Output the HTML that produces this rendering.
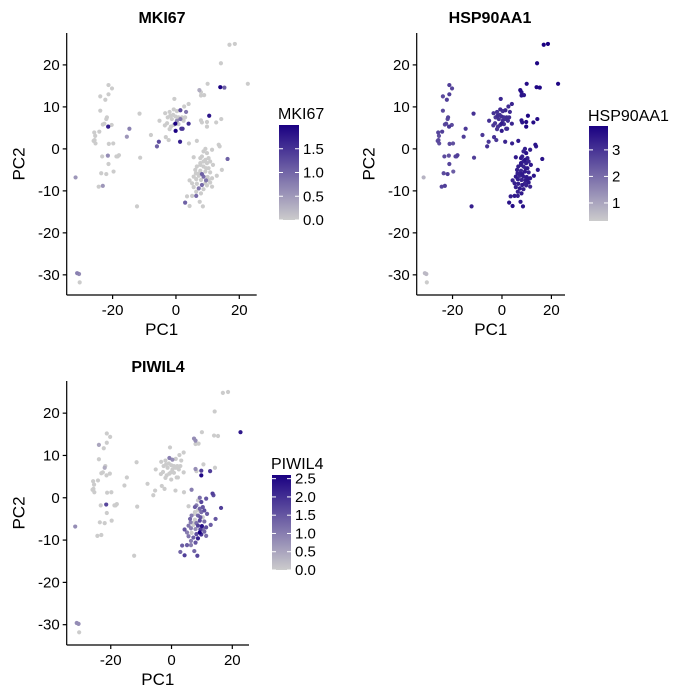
<!DOCTYPE html>
<html><head><meta charset="utf-8">
<style>
body{margin:0;background:#fff;}
svg{display:block;font-family:"Liberation Sans",Arial,sans-serif;}
</style></head>
<body>
<svg id="chart" width="700" height="700" viewBox="0 0 700 700" xmlns="http://www.w3.org/2000/svg">
<defs>
<linearGradient id="grad" x1="0" y1="1" x2="0" y2="0">
<stop offset="0" stop-color="#cccccc"/><stop offset="1" stop-color="#1a0082"/>
</linearGradient>
</defs>
</svg>
<script>
const pc1=[16.9,18.6,14.2,22.7,14.0,15.3,10.0,7.4,7.9,7.9,8.9,10.5,7.9,8.2,9.8,12.7,14.3,6.6,9.8,
-0.5,4.0,2.6,1.4,3.2,0.3,-0.7,-2.0,-3.4,-2.6,-1.8,-0.9,-0.1,0.8,1.9,2.9,-2.8,-1.3,0.3,1.4,2.4,-5.2,-3.5,-2.0,-0.7,-0.2,-0.1,1.7,2.1,4.0,1.3,-5.4,-6.0,-3.2,-2.3,4.1,0.8,-1.6,
-21.3,-20.2,-21.3,-23.9,-22.3,-23.9,-21.8,-22.0,-22.6,-21.4,-20.3,-25.8,-25.5,-25.7,-26.0,-25.4,-24.2,-21.2,-19.8,-23.3,-21.5,-21.3,-18.8,-18.0,-18.4,-19.7,-23.6,-22.0,-24.4,-23.1,-31.7,-15.5,-14.7,-11.5,-11.3,-12.3,-7.9,-23.1,
-31.2,-30.6,-30.4,
13.5,13.8,11.4,9.3,8.7,9.8,8.2,5.6,7.7,10.3,9.3,8.7,10.8,7.7,9.8,11.7,16.3,6.6,8.7,10.3,14.5,6.1,7.7,9.3,10.8,12.9,5.6,7.2,8.7,10.0,11.4,6.4,7.9,9.5,10.8,4.3,5.1,6.6,8.2,9.8,11.4,5.6,7.2,8.7,6.4,7.9,5.1,6.4,2.9,4.3,7.5,8.5,3.5,7.2,8.2,6.3,9.3,10.3,7.7,9.5];
const pc2=[24.8,25.0,20.4,15.5,14.7,14.6,15.5,14.0,13.5,12.7,12.8,7.9,6.8,6.3,5.3,6.3,7.1,1.9,6.4,
11.9,10.7,10.1,9.2,8.8,9.0,9.4,8.8,8.5,7.5,7.9,8.1,7.7,7.5,7.5,7.5,6.1,7.1,6.7,7.1,6.7,6.7,5.6,4.7,5.7,6.0,4.3,4.8,4.8,6.0,1.7,1.7,0.6,2.8,2.1,1.3,5.9,5.3,
15.2,14.4,13.0,12.5,11.7,9.1,7.5,7.1,6.0,5.3,5.7,3.9,3.1,2.1,1.9,1.3,4.1,1.2,1.3,-1.8,-1.6,-3.6,-1.8,-1.5,-1.8,-5.4,-5.8,-6.0,-9.0,-8.8,-6.8,2.9,4.8,8.4,-2.1,-13.7,3.3,5.8,
-29.6,-29.8,-31.8,
1.0,0.6,-0.2,0.0,-0.6,-1.0,-1.8,-2.0,-2.2,-2.2,-2.6,-3.0,-3.0,-3.4,-3.4,-3.8,-2.4,-4.2,-4.2,-4.6,-5.0,-5.0,-5.2,-5.4,-5.6,-6.4,-6.6,-6.4,-6.6,-6.7,-7.0,-7.2,-7.4,-7.5,-8.0,-7.5,-8.2,-8.3,-8.6,-8.7,-9.0,-9.1,-9.4,-9.6,-10.2,-10.6,-11.2,-11.2,-12.8,-13.6,-12.6,-13.7,-11.3,-5.9,-6.0,-5.8,-8.2,-7.4,-3.8,-4.6];
const mki67=[0,0,0,0,1.9,1.0,0,0.3,0,0,0,1.7,0,0,0,0,0,0,0,
0,0,0,1.2,0.8,0,0,0,0,0,0,0,0,0,0,0,0,0,0.6,0.8,0,0,0,0,0,1.9,1.9,1.4,1.4,1.5,1.6,1.2,1.0,0,0,0,0,0,
0,0,0,0,0,0,0,0,0,1.6,0,0,0,0,0,0,0,0,0,0,0.6,0,0,0,0,0,0,0,0,0.5,0.5,0.5,0.7,0,0,0,0,0,
0.7,0.6,0,
0,0,0,0,0,0,0,0,0,0,0,0,0,0,0,0,1.0,0,0,0,0,0,0,0,0,0,0,0,0.9,0,0,0,0,0.8,0,0,0,0,0.9,0,0,0,0.8,0,0,0,0,0.9,1.0,0,0,0,0,0,1.0,0,0,0,0,0];
const hsp90=[3.7,3.7,3.6,3.6,3.6,3.6,3.5,3.5,3.4,3.4,3.3,3.6,3.4,3.4,3.6,3.5,3.5,3.3,3.5,
3.1,3.1,3.0,3.1,3.0,2.9,3.0,2.9,2.9,2.8,3.0,2.9,3.0,2.9,3.0,3.0,2.8,2.9,3.0,2.9,3.0,2.9,2.8,2.8,2.9,3.3,3.3,3.0,3.0,3.1,3.1,2.8,2.9,2.9,2.8,3.2,2.9,2.8,
2.7,2.6,2.7,2.5,2.7,2.5,2.6,2.5,2.6,2.8,2.5,2.6,2.4,2.5,2.5,2.4,2.7,2.5,2.4,2.5,2.4,2.6,2.6,2.7,2.5,2.2,2.5,2.7,2.6,2.7,0.8,2.7,2.8,2.9,2.7,3.2,2.8,2.5,
0.7,0.7,0.4,
3.4,3.3,3.2,3.2,3.1,3.4,3.2,3.3,3.3,3.2,3.4,3.2,3.1,3.3,3.2,3.3,3.4,3.2,3.1,3.3,3.3,3.2,3.1,3.3,3.2,3.4,3.3,3.1,3.2,3.3,3.3,3.2,3.1,3.2,3.3,3.1,3.2,3.2,3.3,3.2,3.1,3.2,3.3,3.2,3.1,3.3,3.3,3.2,3.4,3.5,3.3,3.4,3.2,3.2,3.3,3.2,3.1,3.3,3.2,3.2];
const piwil4=[0,0,0,2.3,0,0,0,0.8,0.8,0,0,0,0.8,0,2.5,1.8,0,1.0,1.8,
0,0,0,0,0,0.8,1.0,0,0,0,0,0,0,0,0,0,0,0,0,0,0,0,0,0,0,0,0,0,0,0,0,0,0,0,0,0,0,0,
0,0,0,0.5,0,0,0,0.4,0,0,0,0,0,0,0,0,0,0,0,0,1.7,0,0,0,0,0,0,0,0,0,0.8,0,0,0,0,0,0,0,
0.8,0.8,0,
1.8,1.6,1.5,1.2,0,1.7,1.0,0,1.4,1.5,1.3,0,1.6,0,1.2,1.4,1.8,1.0,1.3,0,1.5,1.3,0,1.7,1.2,1.4,1.1,0,1.8,2.4,1.6,1.0,0.8,1.8,1.3,1.5,1.0,0,1.6,2.0,1.2,1.1,1.4,2.2,1.0,1.5,1.4,1.0,1.3,1.8,1.3,1.7,1.4,0,1.2,1.0,2.6,1.1,0,1.5];
const xTicks=[-20,0,20];
const yTicks=[20,10,0,-10,-20,-30];
const xDom=[-34.5,25.5], yDom=[-34.8,27.6];

const NS="http://www.w3.org/2000/svg";
const svg=document.getElementById('chart');
function mk(tag,attrs,parent){const e=document.createElementNS(NS,tag);for(const k in attrs)e.setAttribute(k,attrs[k]);(parent||svg).appendChild(e);return e;}
function col(v,lo,hi){let t=(v-lo)/(hi-lo);t=Math.max(0,Math.min(1,t));
 const a=[204,204,204],b=[26,0,130];return 'rgb('+a.map((c,i)=>Math.round(c+(b[i]-c)*t)).join(',')+')';}

const panels=[
 {name:'mki67',title:'MKI67',vals:mki67,L:66.7,R:256.7,T:33,B:295,tx:162,ty:18,
  leg:{x:279,w:20,top:125,bot:220,lo:0,hi:2.0,ticks:[0,0.5,1.0,1.5],lab:['0.0','0.5','1.0','1.5'],tty:113}},
 {name:'hsp90aa1',title:'HSP90AA1',vals:hsp90,L:416.7,R:565,T:33,B:295,tx:490,ty:18,
  leg:{x:589,w:19,top:126,bot:221,lo:0.32,hi:3.9,ticks:[1,2,3],lab:['1','2','3'],tty:115}},
 {name:'piwil4',title:'PIWIL4',vals:piwil4,L:66.7,R:249,T:381,B:645,tx:158,ty:367,
  leg:{x:272,w:19,top:475,bot:570,lo:0,hi:2.6,ticks:[0,0.5,1.0,1.5,2.0,2.5],lab:['0.0','0.5','1.0','1.5','2.0','2.5'],tty:463}}
];

panels.forEach(p=>{
 const g=mk('g',{});
 
 
 const xs=v=>p.L+(v-xDom[0])/(xDom[1]-xDom[0])*(p.R-p.L);
 const ys=v=>p.B-(v-yDom[0])/(yDom[1]-yDom[0])*(p.B-p.T);
 const t=mk('text',{x:p.tx,y:p.ty+5,'text-anchor':'middle','font-size':16,'font-weight':'bold',fill:'#000'},g);
 t.textContent=p.title;
 
 
 const idx=pc1.map((_,i)=>i).sort((a,b)=>p.vals[a]-p.vals[b]);
 const pg=mk('g',{},g);
 
 
 const lo=Math.min(...p.vals),hi=Math.max(...p.vals);
 idx.forEach(i=>{
  const c=mk('circle',{cx:xs(pc1[i]),cy:ys(pc2[i]),r:2.1,fill:col(p.vals[i],lo,hi)},pg);
  
  
 });
 const xa=mk('line',{x1:p.L,y1:p.B,x2:p.R,y2:p.B,stroke:'#000','stroke-width':1.2},g);
 
 
 const ya=mk('line',{x1:p.L,y1:p.T,x2:p.L,y2:p.B,stroke:'#000','stroke-width':1.2},g);
 
 
 xTicks.forEach(v=>{
  mk('line',{x1:xs(v),y1:p.B,x2:xs(v),y2:p.B+4,stroke:'#000','stroke-width':1.2},g);
  const tl=mk('text',{x:xs(v),y:p.B+20,'text-anchor':'middle','font-size':15,fill:'#000'},g);
  tl.textContent=v;
  
  
 });
 yTicks.forEach(v=>{
  mk('line',{x1:p.L-4,y1:ys(v),x2:p.L,y2:ys(v),stroke:'#000','stroke-width':1.2},g);
  const tl=mk('text',{x:p.L-7,y:ys(v)+5,'text-anchor':'end','font-size':15,fill:'#000'},g);
  tl.textContent=v;
  
  
 });
 const xt=mk('text',{x:(p.L+p.R)/2,y:p.B+40,'text-anchor':'middle','font-size':17,fill:'#000'},g);
 xt.textContent='PC1';
 
 
 const cy=(p.T+p.B)/2;
 const yt=mk('text',{x:p.L-42,y:cy,'text-anchor':'middle','font-size':17,fill:'#000',transform:'rotate(-90 '+(p.L-42)+' '+cy+')'},g);
 yt.textContent='PC2';
 
 
 const l=p.leg;
 const lg=mk('g',{},g);
 
 
 const lt=mk('text',{x:l.x-1,y:l.tty+6,'font-size':16,fill:'#000'},lg);
 lt.textContent=p.title;
 
 
 const bar=mk('rect',{x:l.x,y:l.top,width:l.w,height:l.bot-l.top,fill:'url(#grad)'},lg);
 
 
 l.ticks.forEach((v,k)=>{
  const y=l.bot-(v-l.lo)/(l.hi-l.lo)*(l.bot-l.top);
  mk('line',{x1:l.x,y1:y,x2:l.x+4,y2:y,stroke:'#fff','stroke-width':1},lg);
  mk('line',{x1:l.x+l.w-4,y1:y,x2:l.x+l.w,y2:y,stroke:'#fff','stroke-width':1},lg);
  const tl=mk('text',{x:l.x+l.w+4,y:y+5,'font-size':15,fill:'#000'},lg);
  tl.textContent=l.lab[k];
  
  
 });
});
</script>
</body></html>
